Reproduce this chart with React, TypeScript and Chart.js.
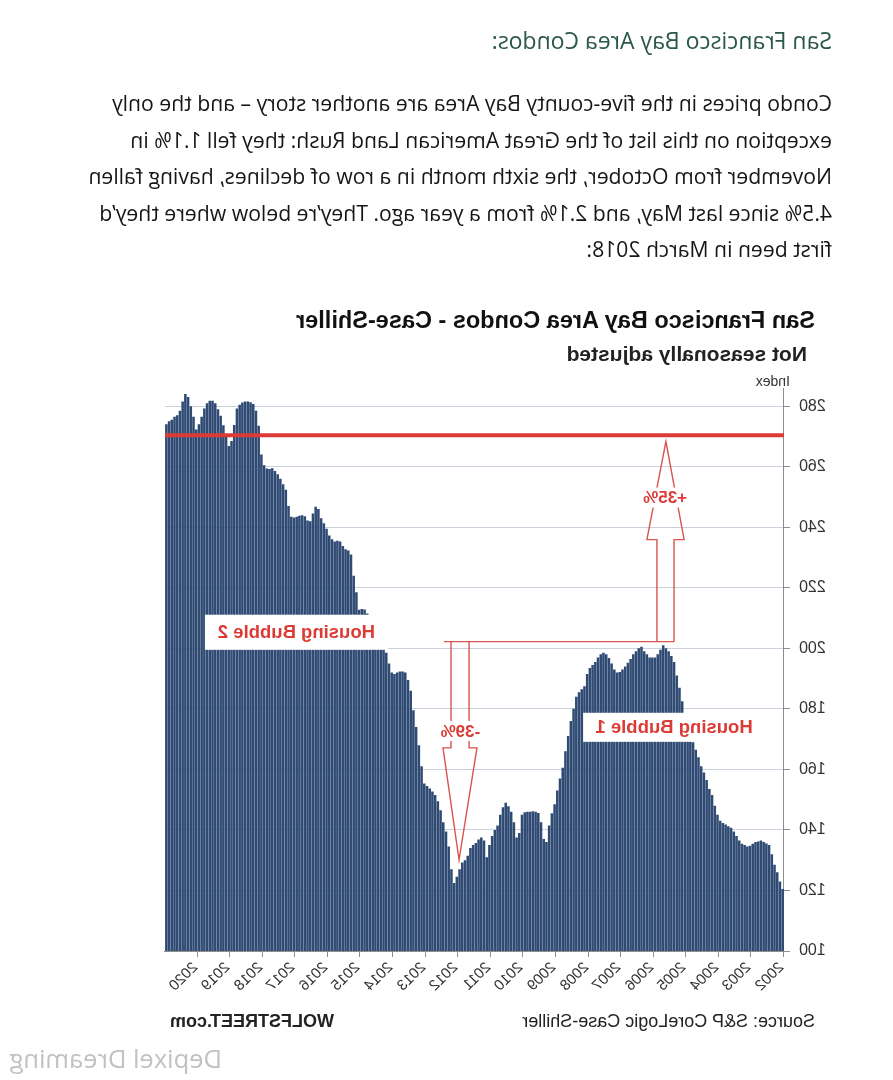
import React, { useEffect, useRef } from "react";
import { Chart, registerables } from "chart.js";

Chart.register(...registerables);

// ---------- data ----------
const YEARS = [
  "2002", "2003", "2004", "2005", "2006", "2007", "2008", "2009", "2010", "2011",
  "2012", "2013", "2014", "2015", "2016", "2017", "2018", "2019", "2020",
];
const MONTHS = ["Jan", "Feb", "Mar", "Apr", "May", "Jun", "Jul", "Aug", "Sep", "Oct", "Nov", "Dec"];
const CATEGORIES = YEARS.flatMap((y) => MONTHS.map((m) => `${m} ${y}`));

const INDEX_VALUES = [
  120.5, 123, 126, 128.5, 132, 135, 135.5, 136, 136.5, 136.2,
  136, 135.4, 134.8, 134.5, 135, 135.4, 136.5, 138, 139.5, 140.7,
  141.2, 141.8, 142.3, 143, 145, 148, 151.5, 153.5, 156.5, 159,
  161, 164, 166.5, 169, 172, 175.5, 178.5, 182.5, 187, 191,
  195.5, 197.5, 199, 200, 201, 199.5, 198, 197, 197, 197,
  198, 199, 200.5, 200, 199, 198, 196.5, 195.2, 194, 193,
  192.2, 192, 193, 195, 196.8, 198, 198.5, 198, 197, 195.5,
  194.5, 193.5, 191.5, 187.5, 186.5, 185.5, 184, 180, 176, 171,
  166, 160.5, 157, 153, 148.5, 145.5, 141.5, 136, 137, 142.5,
  145.6, 146, 146.2, 146, 146, 145.8, 145, 139, 137.5, 142.5,
  146, 147.8, 149, 147.5, 145, 141.5, 140, 138, 135, 131,
  136.5, 137.5, 136.8, 135.7, 135, 134, 131.5, 130, 129.2, 127,
  124.5, 122.5, 127, 134.5, 139.5, 142.5, 146.5, 149.5, 151.5, 152.7,
  153.7, 154.5, 155.3, 161, 168, 174, 179.5, 186, 189.5, 192,
  192.3, 192.3, 192, 191.5, 192, 195, 198.5, 200.5, 202, 203.5,
  205.5, 207.5, 209.5, 211.5, 212.8, 213, 212.7, 218.5, 224, 231,
  232.3, 232.7, 233.8, 235.3, 235.5, 235.3, 236, 237.3, 239.5, 241.3,
  243, 246, 246.8, 244.5, 242, 242.2, 243.6, 244, 243.8, 243.5,
  243.2, 243.5, 247, 252.4, 254.2, 256, 257.5, 258.6, 259.5, 259.2,
  259.4, 260.5, 264, 273.5, 278.5, 280.7, 281.3, 281.5, 281.5, 281.2,
  280.5, 279.2, 273.8, 268.5, 266.8, 270, 273.7, 276.8, 279, 281,
  281.8, 281.8, 281, 279.2, 276.5, 274, 272.3, 276.5, 280, 283,
  284, 281.5, 278.5, 277, 276.5, 275.5, 275, 274,
];

const Y_TICKS = [100, 120, 140, 160, 180, 200, 220, 240, 260, 280];
const Y_MIN = 100;
const Y_MAX = 286;

// reference level (red line) and annotation anchors in data units (month position, index value)
const LEVEL_LINE = 270.4;
const BUBBLE_LABELS = [
  { text: "Housing Bubble 1", p0: 7.0, p1: 74.0, v0: 169.1, v1: 178.7 },
  { text: "Housing Bubble 2", p0: 145.9, p1: 213.3, v0: 199.5, v1: 211.1 },
];
const CONNECTOR = { pFrom: 125.2, pTo: 40.5, v: 202.2 };
const DOWN_ARROW = { label: "-39%", stemA: 116.0, stemB: 122.65, headA: 113.1, headB: 125.6, tipP: 119.7, top: 202.2, shoulder: 167.1, tip: 130.1, textP: 119.2, textV: 172.7 };
const UP_ARROW = { label: "+35%", stemA: 40.5, stemB: 46.8, headA: 36.8, headB: 50.5, tipP: 43.5, bottom: 202.2, shoulder: 235.9, tip: 268.3, textP: 43.8, textV: 249.8 };

const PARAGRAPH_LINES = [
  "Condo prices in the five-county Bay Area are another story \u2013 and the only",
  "exception on this list of the Great American Land Rush: they fell 1.1% in",
  "November from October, the sixth month in a row of declines, having fallen",
  "4.5% since last May, and 2.1% from a year ago. They\u2019re below where they\u2019d",
  "first been in March 2018:",
];

// ---------- styles ----------
const BAR_COLOR = "#2f4a73";
const RED = "#dc3a34";
const ARROW_RED = "#d9544f";
const AXIS_GRAY = "#8e8e8e";
const GRID = "#c9d1dc";
const CHART_FONT = '"Liberation Sans", Arial, sans-serif';

const overlayPlugin = {
  id: "overlay",
  afterDatasetsDraw(chart: any) {
    const { ctx, chartArea, scales } = chart;
    const xs = scales.x;
    const ys = scales.y;
    const X = (p: number) => xs.getPixelForValue(p - 0.5);
    const Y = (v: number) => ys.getPixelForValue(v);
    ctx.save();

    // year ticks + rotated labels
    ctx.strokeStyle = AXIS_GRAY;
    ctx.lineWidth = 1;
    YEARS.forEach((yr, k) => {
      const tx = Math.round(X(k * 12)) + 0.5;
      ctx.beginPath();
      ctx.moveTo(tx, chartArea.bottom);
      ctx.lineTo(tx, chartArea.bottom + 6);
      ctx.stroke();
      ctx.save();
      ctx.translate(tx + 2, chartArea.bottom + 14);
      ctx.rotate(Math.PI / 4);
      ctx.font = `15px ${CHART_FONT}`;
      ctx.fillStyle = "#333";
      ctx.textAlign = "left";
      ctx.textBaseline = "middle";
      ctx.fillText(yr, 0, 0);
      ctx.restore();
    });

    // thick red level line
    ctx.strokeStyle = RED;
    ctx.lineWidth = 4;
    ctx.beginPath();
    ctx.moveTo(chartArea.left, Y(LEVEL_LINE));
    ctx.lineTo(chartArea.right, Y(LEVEL_LINE));
    ctx.stroke();

    // label boxes
    BUBBLE_LABELS.forEach((b) => {
      const x0 = X(b.p0), x1 = X(b.p1), y0 = Y(b.v1), y1 = Y(b.v0);
      ctx.fillStyle = "#ffffff";
      ctx.fillRect(x0, y0, x1 - x0, y1 - y0);
      ctx.fillStyle = RED;
      ctx.font = `bold 18.5px ${CHART_FONT}`;
      ctx.textAlign = "center";
      ctx.textBaseline = "middle";
      ctx.fillText(b.text, (x0 + x1) / 2, (y0 + y1) / 2 + 1);
    });

    // arrows
    ctx.strokeStyle = ARROW_RED;
    ctx.lineWidth = 1.4;
    ctx.beginPath();
    ctx.moveTo(X(CONNECTOR.pFrom), Y(CONNECTOR.v));
    ctx.lineTo(X(CONNECTOR.pTo), Y(CONNECTOR.v));
    ctx.stroke();

    const d = DOWN_ARROW;
    ctx.beginPath();
    ctx.moveTo(X(d.stemA), Y(d.top));
    ctx.lineTo(X(d.stemA), Y(d.shoulder));
    ctx.lineTo(X(d.headA), Y(d.shoulder));
    ctx.lineTo(X(d.tipP), Y(d.tip));
    ctx.lineTo(X(d.headB), Y(d.shoulder));
    ctx.lineTo(X(d.stemB), Y(d.shoulder));
    ctx.lineTo(X(d.stemB), Y(d.top));
    ctx.stroke();

    const u = UP_ARROW;
    ctx.beginPath();
    ctx.moveTo(X(u.stemA), Y(u.bottom));
    ctx.lineTo(X(u.stemA), Y(u.shoulder));
    ctx.lineTo(X(u.headA), Y(u.shoulder));
    ctx.lineTo(X(u.tipP), Y(u.tip));
    ctx.lineTo(X(u.headB), Y(u.shoulder));
    ctx.lineTo(X(u.stemB), Y(u.shoulder));
    ctx.lineTo(X(u.stemB), Y(u.bottom));
    ctx.stroke();

    [d, u].forEach((a) => {
      ctx.font = `bold 17px ${CHART_FONT}`;
      const w = ctx.measureText(a.label).width;
      const cx = X(a.textP), cy = Y(a.textV);
      ctx.fillStyle = "#ffffff";
      ctx.fillRect(cx - w / 2 - 2, cy - 10, w + 4, 20);
      ctx.fillStyle = RED;
      ctx.textAlign = "center";
      ctx.textBaseline = "middle";
      ctx.fillText(a.label, cx, cy + 1);
    });

    ctx.restore();
  },
};

function ChartCanvas() {
  const ref = useRef<HTMLCanvasElement | null>(null);
  useEffect(() => {
    if (!ref.current) return;
    const chart = new Chart(ref.current, {
      type: "bar",
      data: {
        labels: CATEGORIES,
        datasets: [
          {
            data: INDEX_VALUES,
            backgroundColor: BAR_COLOR,
            borderWidth: 0,
            barPercentage: 0.94,
            categoryPercentage: 1,
          },
        ],
      },
      options: {
        animation: false,
        responsive: false,
        maintainAspectRatio: false,
        layout: { padding: { top: 8, right: 165, left: 0, bottom: 0 } },
        plugins: { legend: { display: false }, tooltip: { enabled: false }, title: { display: false } },
        scales: {
          x: {
            type: "category",
            ticks: { display: false },
            grid: { display: false },
            border: { display: true, color: AXIS_GRAY, width: 1 },
            afterFit: (s: any) => {
              s.height = 69;
              s.paddingLeft = 0;
              s.paddingRight = 0;
            },
          },
          y: {
            min: Y_MIN,
            max: Y_MAX,
            afterBuildTicks: (s: any) => {
              s.ticks = Y_TICKS.map((v) => ({ value: v }));
            },
            afterFit: (s: any) => {
              s.width = 109;
              s.paddingTop = 0;
              s.paddingBottom = 0;
            },
            grid: { color: GRID, lineWidth: 1, drawTicks: true, tickLength: 6, tickColor: AXIS_GRAY },
            border: { display: true, color: AXIS_GRAY, width: 1 },
            ticks: { font: { family: CHART_FONT, size: 16 }, color: "#333", padding: 9 },
          },
        },
      },
      plugins: [overlayPlugin],
    });
    return () => chart.destroy();
  }, []);
  return (
    <canvas
      ref={ref}
      width={893}
      height={640}
      style={{ position: "absolute", left: 0, top: 380, width: 893, height: 640 }}
    />
  );
}

function Txt(props: { x: number; cy: number; size: number; children: any; weight?: any; color?: string; family?: string; right?: boolean }) {
  const lh = Math.round(props.size * 1.3);
  const style: any = {
    position: "absolute",
    top: props.cy - lh / 2,
    lineHeight: `${lh}px`,
    fontSize: props.size,
    fontWeight: props.weight || "normal",
    color: props.color || "#222",
    fontFamily: props.family || CHART_FONT,
    whiteSpace: "nowrap",
  };
  if (props.right) style.right = 893 - props.x;
  else style.left = props.x;
  return <div style={style}>{props.children}</div>;
}

export default function App() {
  const PAGE_FONT = '"Open Sans", "Noto Sans", sans-serif';
  const lineCenters = [103, 139.5, 176, 212.5, 249];
  return (
    <div
      style={{
        position: "absolute",
        left: 0,
        top: 0,
        width: 893,
        height: 1080,
        overflow: "hidden",
        background: "#ffffff",
        transform: "scaleX(-1)",
        transformOrigin: "center center",
      }}
    >
      <Txt x={61} cy={40} size={23} color="#2b5848" family={PAGE_FONT}>
        San Francisco Bay Area Condos:
      </Txt>
      {PARAGRAPH_LINES.map((line, i) => (
        <Txt key={i} x={61} cy={lineCenters[i]} size={21.2} color="#161616" family={PAGE_FONT}>
          {line}
        </Txt>
      ))}
      <Txt x={78} cy={320} size={23.5} weight="bold" color="#111">
        San Francisco Bay Area Condos - Case-Shiller
      </Txt>
      <Txt x={86} cy={353} size={21} weight="bold" color="#222">
        Not seasonally adjusted
      </Txt>
      <Txt x={103} cy={381} size={14} color="#333">
        Index
      </Txt>
      <ChartCanvas />
      <Txt x={78} cy={1021} size={18} color="#222">
        Source: S&amp;P CoreLogic Case-Shiller
      </Txt>
      <Txt x={723} cy={1021} size={18} weight="bold" color="#222" right>
        WOLFSTREET.com
      </Txt>
      <Txt x={671} cy={1058} size={25.5} color="#c2c2c2" family={PAGE_FONT}>
        Depixel Dreaming
      </Txt>
    </div>
  );
}
